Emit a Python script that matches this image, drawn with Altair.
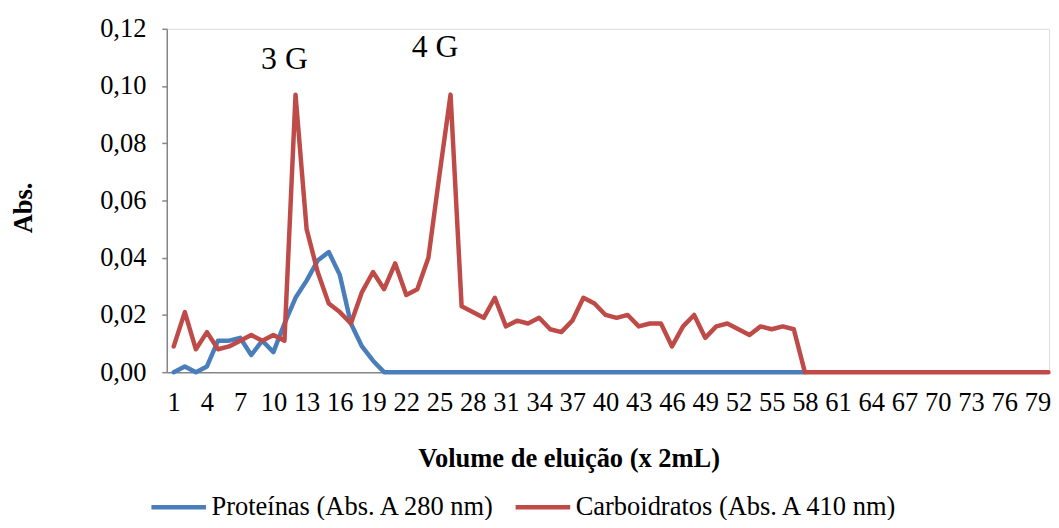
import altair as alt
import pandas as pd

# ---- data ----
fractions = list(range(1, 81))

proteinas = [0.000, 0.002, 0.000, 0.002, 0.011, 0.011, 0.012, 0.006, 0.011, 0.007,
             0.017, 0.026, 0.032, 0.039, 0.042, 0.034, 0.017, 0.009, 0.004, 0.000,
             0.000, 0.000, 0.000, 0.000, 0.000, 0.000, 0.000, 0.000, 0.000, 0.000,
             0.000, 0.000, 0.000, 0.000, 0.000, 0.000, 0.000, 0.000, 0.000, 0.000,
             0.000, 0.000, 0.000, 0.000, 0.000, 0.000, 0.000, 0.000, 0.000, 0.000,
             0.000, 0.000, 0.000, 0.000, 0.000, 0.000, 0.000, 0.000]

carboidratos = [0.009, 0.021, 0.008, 0.014, 0.008, 0.009, 0.011, 0.013, 0.011, 0.013,
                0.011, 0.097, 0.050, 0.035, 0.024, 0.021, 0.017, 0.028, 0.035, 0.029,
                0.038, 0.027, 0.029, 0.040, 0.069, 0.097, 0.023, 0.021, 0.019, 0.026,
                0.016, 0.018, 0.017, 0.019, 0.015, 0.014, 0.018, 0.026, 0.024, 0.020,
                0.019, 0.020, 0.016, 0.017, 0.017, 0.009, 0.016, 0.020, 0.012, 0.016,
                0.017, 0.015, 0.013, 0.016, 0.015, 0.016, 0.015, 0.000, 0.000, 0.000,
                0.000, 0.000, 0.000, 0.000, 0.000, 0.000, 0.000, 0.000, 0.000, 0.000,
                0.000, 0.000, 0.000, 0.000, 0.000, 0.000, 0.000, 0.000, 0.000, 0.000]

series_names = ["Proteínas (Abs. A 280 nm)", "Carboidratos (Abs. A 410 nm)"]
series_colors = ["#4A7EBB", "#BE4B48"]

x_tick_values = list(range(1, 80, 3))
y_tick_values = [0.00, 0.02, 0.04, 0.06, 0.08, 0.10, 0.12]

annot_labels = ["3 G", "4 G"]
annot_x = [11.0, 24.6]
annot_y = [0.106, 0.110]

# ---- tables ----
rows = []
for i, v in enumerate(proteinas):
    rows.append({"serie": series_names[0], "fracao": fractions[i], "abs": v, "ordem": 0})
for i, v in enumerate(carboidratos):
    rows.append({"serie": series_names[1], "fracao": fractions[i], "abs": v, "ordem": 1})
df = pd.DataFrame(rows)

ann = pd.DataFrame({"label": annot_labels, "x": annot_x, "y": annot_y})

FONT = "Liberation Serif"
FS = 26.67
AXIS_GREY = "#868686"

x_scale = alt.Scale(domain=[0.372, 80.05], nice=False, zero=False)
y_scale = alt.Scale(domain=[0, 0.12], nice=False)

x_axis = alt.Axis(values=x_tick_values, ticks=False, grid=False,
                  labelFont=FONT, labelFontSize=FS, labelColor="black",
                  labelPadding=18, labelFlush=False, labelOverlap=False,
                  labelSeparation=0, labelBound=False,
                  domainColor=AXIS_GREY, domainWidth=1.5,
                  title="Volume de eluição (x 2mL)",
                  titleFont=FONT, titleFontSize=FS, titleFontWeight="bold",
                  titleColor="black", titleX=405, titleY=95,
                  titleAlign="center", titleBaseline="alphabetic")

y_axis = alt.Axis(values=y_tick_values, grid=False,
                  labelExpr="replace(format(datum.value, '.2f'), '.', ',')",
                  labelFont=FONT, labelFontSize=FS, labelColor="black",
                  labelPadding=16, labelOverlap=False,
                  ticks=True, tickSize=5, tickColor=AXIS_GREY,
                  tickWidth=1.5, domainColor=AXIS_GREY, domainWidth=1.5,
                  title="Abs.", titleFont=FONT, titleFontSize=FS,
                  titleFontWeight="bold", titleColor="black",
                  titleAngle=270, titleX=-144, titleY=180,
                  titleAlign="center", titleBaseline="middle")

lines = alt.Chart(df).mark_line(strokeWidth=4.5, strokeJoin="round", strokeCap="round").encode(
    x=alt.X("fracao:Q", scale=x_scale, axis=x_axis),
    y=alt.Y("abs:Q", scale=y_scale, axis=y_axis),
    color=alt.Color("serie:N",
                    scale=alt.Scale(domain=series_names, range=series_colors),
                    sort=series_names,
                    legend=alt.Legend(orient="none", legendX=-18, legendY=452,
                                      direction="horizontal", title=None,
                                      symbolType="stroke", symbolStrokeWidth=4.5,
                                      symbolSize=3025, labelFont=FONT,
                                      labelFontSize=FS, labelColor="black",
                                      labelOffset=3, columnPadding=10,
                                      labelLimit=500)),
    order=alt.Order("ordem:Q"),
    detail="serie:N",
)

texts = alt.Chart(ann).mark_text(font=FONT, fontSize=32, color="black",
                                 align="center", baseline="alphabetic").encode(
    x=alt.X("x:Q", scale=x_scale, axis=x_axis),
    y=alt.Y("y:Q", scale=y_scale, axis=y_axis),
    text="label:N",
)

chart = alt.layer(lines, texts).properties(
    width=889, height=346,
    autosize=alt.AutoSizeParams(type="none"),
    padding={"left": 160, "top": 19, "right": 2, "bottom": 147},
).configure_view(stroke=None).configure(background="white")

chart.save("out.html", embed_options={"renderer": "svg", "actions": False})
